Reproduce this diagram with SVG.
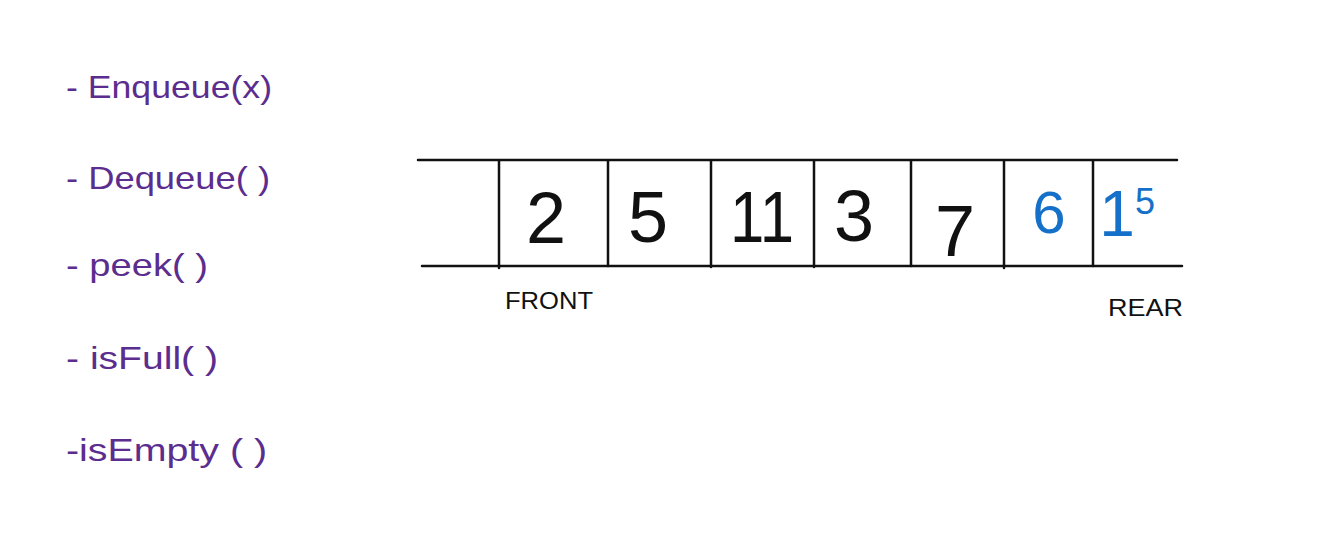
<svg xmlns="http://www.w3.org/2000/svg" width="1320" height="544" viewBox="0 0 1320 544">
<style>
.op{font-family:"Liberation Sans",Arial,sans-serif;font-size:32px;fill:#5b2d8e}
.num{font-family:"Liberation Sans",Arial,sans-serif;font-size:72px;fill:#111;text-anchor:middle}
.blue{fill:#1470c8}
.lbl{font-family:"Liberation Sans",Arial,sans-serif;font-size:24px;fill:#111}
.ln{stroke:#111;stroke-width:2.5;stroke-linecap:round;fill:none}
</style>
<rect width="1320" height="544" fill="#fff"/>
<g id="operations">
<text class="op" x="66" y="98" textLength="206" lengthAdjust="spacingAndGlyphs">- Enqueue(x)</text>
<text class="op" x="66" y="189" textLength="204" lengthAdjust="spacingAndGlyphs">- Dequeue( )</text>
<text class="op" x="66" y="276" textLength="142" lengthAdjust="spacingAndGlyphs">- peek( )</text>
<text class="op" x="66" y="369" textLength="152" lengthAdjust="spacingAndGlyphs">- isFull( )</text>
<text class="op" x="66" y="461" textLength="201" lengthAdjust="spacingAndGlyphs">-isEmpty ( )</text>
</g>
<g id="queue">
<line class="ln" x1="418" y1="160" x2="1177" y2="160"/>
<line class="ln" x1="422" y1="266" x2="1182" y2="266"/>
<line class="ln" x1="499" y1="161" x2="499" y2="268"/>
<line class="ln" x1="608" y1="161" x2="608" y2="266"/>
<line class="ln" x1="711" y1="161" x2="711" y2="267"/>
<line class="ln" x1="814" y1="161" x2="814" y2="267"/>
<line class="ln" x1="911" y1="161" x2="911" y2="266"/>
<line class="ln" x1="1004" y1="161" x2="1004" y2="268"/>
<line class="ln" x1="1093" y1="161" x2="1093" y2="266"/>
</g>
<g id="cells">
<text class="num" x="546" y="243">2</text>
<text class="num" x="648" y="242">5</text>
<text class="num" x="762" y="242" textLength="64" lengthAdjust="spacingAndGlyphs">11</text>
<text class="num" x="854" y="241">3</text>
<text class="num" x="955" y="256">7</text>
<text class="num blue" x="1049" y="233" style="font-size:60px">6</text>
<text class="num blue" x="1117" y="236" style="font-size:64px">1</text>
<text class="num blue" x="1145" y="214" style="font-size:36px">5</text>
</g>
<g id="labels">
<text class="lbl" x="505" y="309" textLength="88" lengthAdjust="spacingAndGlyphs">FRONT</text>
<text class="lbl" x="1108" y="316" textLength="75" lengthAdjust="spacingAndGlyphs">REAR</text>
</g>
</svg>
